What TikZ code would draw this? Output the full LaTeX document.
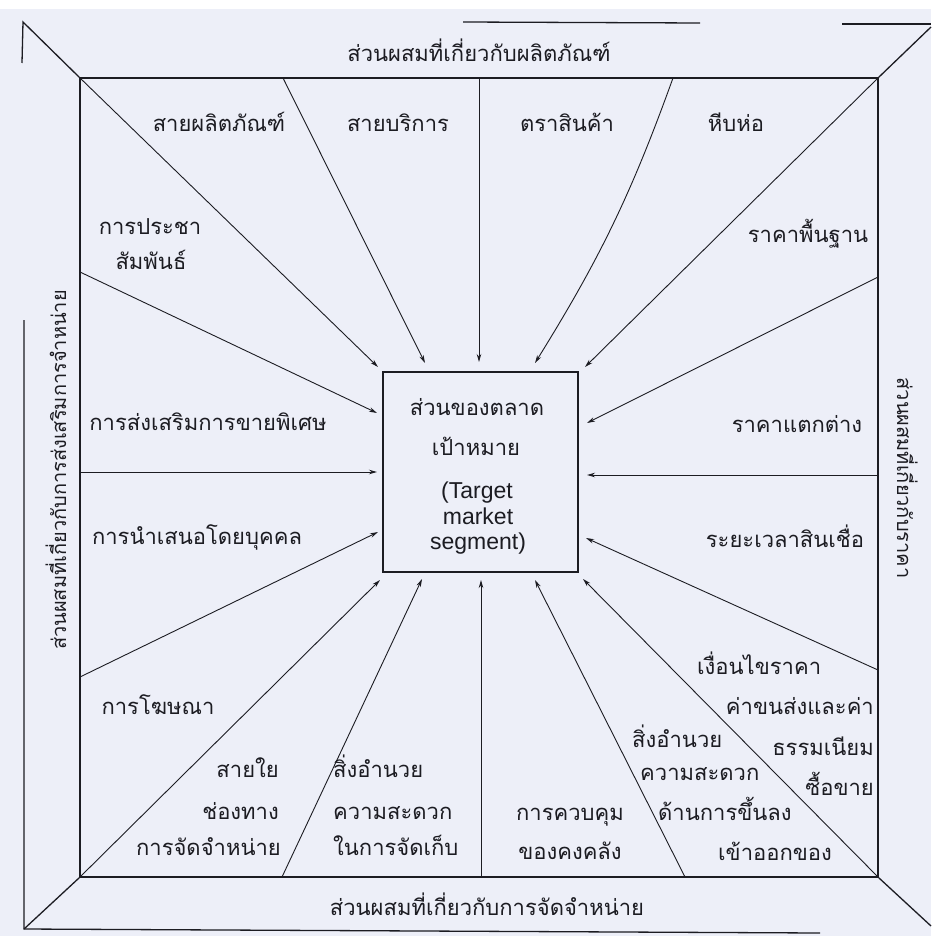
\documentclass[tikz,border=0pt]{standalone}
\usepackage{fontspec}
\newfontfamily\thai[Script=Thai]{Loma}
\newfontfamily\latn{Liberation Sans}
\usetikzlibrary{arrows.meta}
\definecolor{bgc}{RGB}{237,239,248}
\definecolor{ink}{RGB}{28,28,34}
\begin{document}
\begin{tikzpicture}[x=1pt,y=-1pt,
  lbl/.style={font=\thai\fontsize{22}{26}\selectfont, text=ink, inner sep=0pt, anchor=base},
  side/.style={font=\thai\fontsize{20}{24}\selectfont, text=ink, inner sep=0pt, anchor=base},
  eng/.style={font=\latn\fontsize{23}{27}\selectfont, text=ink, inner sep=0pt, anchor=base},
  arr/.style={draw=ink, line width=0.9pt, -{Stealth[length=8pt,width=4.5pt]}},
  frame/.style={draw=ink, line width=1.3pt},
  inner/.style={draw=ink, line width=1.7pt}
]
\useasboundingbox (0,0) rectangle (931,936);
\fill[bgc] (0,0) rectangle (931,936);
\fill[white] (0,0) rectangle (931,9);

% inner square and centre box
\node[inner, minimum width=798pt, minimum height=799pt, inner sep=0pt] (sq) at (479,477.5) {};
\node[inner, line width=1.5pt, minimum width=195pt, minimum height=200pt, inner sep=0pt] (ctr) at (480.5,472) {};

% outer frame fragments
\coordinate (oTL) at (23,22);
\coordinate (oTLb) at (22,63);
\coordinate (oL) at (24,320);
\coordinate (oBL) at (24,929);
\coordinate (oB) at (820,933);
\coordinate (oT1) at (463,22);
\coordinate (oT2) at (700,23);
\coordinate (oT3) at (842,24);
\coordinate (oT4) at (931,24);
\coordinate (oTR) at (931,27);
\coordinate (oBR) at (931,926);
\draw[frame] (oTLb) -- (oTL) -- (sq.north west);
\draw[frame] (oL) -- (oBL) -- (oB);
\draw[frame] (oBL) -- (sq.south west);
\draw[frame] (oT1) -- (oT2);
\draw[frame] (oT3) -- (oT4);
\draw[frame] (sq.north east) -- (oTR);
\draw[frame] (sq.south east) -- (oBR);

% start points on the square
\coordinate (s2) at (283,78);
\coordinate (s3) at (479,78);
\coordinate (s4) at (673,78);
\coordinate (s6) at (878,277);
\coordinate (s7) at (878,475);
\coordinate (s8) at (878,670);
\coordinate (s10) at (685,877);
\coordinate (s11) at (481,877);
\coordinate (s12) at (282,877);
\coordinate (s14) at (80,677);
\coordinate (s15) at (80,472);
\coordinate (s16) at (80,272);
% end points near the centre box
\coordinate (e1) at (378,367);
\coordinate (e2) at (425,363);
\coordinate (e3) at (479,362);
\coordinate (e4) at (535,363);
\coordinate (e5) at (585,367);
\coordinate (e6) at (587,423);
\coordinate (e7) at (587,475);
\coordinate (e8) at (586,538);
\coordinate (e9) at (583,579);
\coordinate (e10) at (535,580);
\coordinate (e11) at (481,580);
\coordinate (e12) at (422,579);
\coordinate (e13) at (380,580);
\coordinate (e14) at (378,532);
\coordinate (e15) at (377,472);
\coordinate (e16) at (377,413);

\draw[arr] (sq.north west) -- (e1);
\draw[arr] (s2) -- (e2);
\draw[arr] (s3) -- (e3);
\draw[arr] (s4) to[bend left=6] (e4);
\draw[arr] (sq.north east) -- (e5);
\draw[arr] (s6) -- (e6);
\draw[arr] (s7) -- (e7);
\draw[arr] (s8) -- (e8);
\draw[arr] (sq.south east) -- (e9);
\draw[arr] (s10) -- (e10);
\draw[arr] (s11) -- (e11);
\draw[arr] (s12) -- (e12);
\draw[arr] (sq.south west) -- (e13);
\draw[arr] (s14) -- (e14);
\draw[arr] (s15) -- (e15);
\draw[arr] (s16) -- (e16);

% titles of the four sides
\node[lbl] (tProd) at (479,62) {ส่วนผสมที่เกี่ยวกับผลิตภัณฑ์};
\node[lbl] (tDist) at (487,915) {ส่วนผสมที่เกี่ยวกับการจัดจำหน่าย};
\node[side, rotate=90] (tProm) at (66,470) {ส่วนผสมที่เกี่ยวกับการส่งเสริมการจำหน่าย};
\node[side, rotate=-90] (tPrice) at (897,478) {ส่วนผสมที่เกี่ยวกับราคา};

% centre text
\node[lbl] (c1) at (477,415) {ส่วนของตลาด};
\node[lbl] (c2) at (476,455) {เป้าหมาย};
\node[eng] (c3) at (477,498) {(Target};
\node[eng] (c4) at (478,524) {market};
\node[eng] (c5) at (478,549) {segment)};

% product
\node[lbl] (p1) at (219,132) {สายผลิตภัณฑ์};
\node[lbl] (p2) at (398,132) {สายบริการ};
\node[lbl] (p3) at (567,132) {ตราสินค้า};
\node[lbl] (p4) at (736,132) {หีบห่อ};

% price
\node[lbl] (r1) at (808,242) {ราคาพื้นฐาน};
\node[lbl] (r2) at (797,432) {ราคาแตกต่าง};
\node[lbl] (r3) at (785,547) {ระยะเวลาสินเชื่อ};
\node[lbl, anchor=base west] (r4) at (697,674) {เงื่อนไขราคา};
\node[lbl, anchor=base east] (r5a) at (874,714) {ค่าขนส่งและค่า};
\node[lbl, anchor=base east] (r5b) at (874,755) {ธรรมเนียม};
\node[lbl, anchor=base east] (r5c) at (874,795) {ซื้อขาย};

% promotion
\node[lbl] (m1a) at (150,234) {การประชา};
\node[lbl] (m1b) at (151,269) {สัมพันธ์};
\node[lbl] (m2) at (208,430) {การส่งเสริมการขายพิเศษ};
\node[lbl] (m3) at (197,544) {การนำเสนอโดยบุคคล};
\node[lbl] (m4) at (158,714) {การโฆษณา};

% distribution
\node[lbl, anchor=base east] (d1a) at (279,777) {สายใย};
\node[lbl, anchor=base east] (d1b) at (279,819) {ช่องทาง};
\node[lbl, anchor=base east] (d1c) at (281,855) {การจัดจำหน่าย};
\node[lbl, anchor=base west] (d2a) at (333,777) {สิ่งอำนวย};
\node[lbl, anchor=base west] (d2b) at (333,819) {ความสะดวก};
\node[lbl, anchor=base west] (d2c) at (333,855) {ในการจัดเก็บ};
\node[lbl] (d3a) at (570,820) {การควบคุม};
\node[lbl] (d3b) at (570,859) {ของคงคลัง};
\node[lbl, anchor=base west] (d4a) at (632,747) {สิ่งอำนวย};
\node[lbl, anchor=base west] (d4b) at (640,780) {ความสะดวก};
\node[lbl, anchor=base west] (d4c) at (658,820) {ด้านการขึ้นลง};
\node[lbl, anchor=base west] (d4d) at (718,860) {เข้าออกของ};
\end{tikzpicture}
\end{document}
